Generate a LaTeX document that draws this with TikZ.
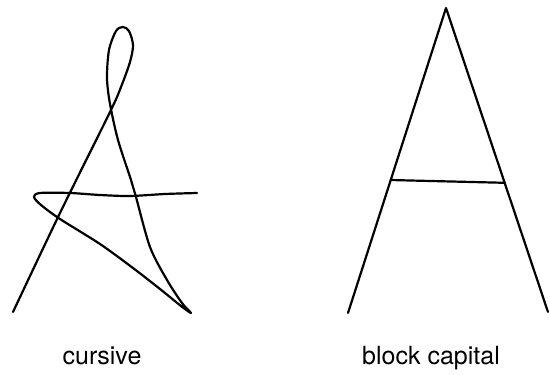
\documentclass[tikz,border=0pt]{standalone}
\usepackage{fontspec}
\setmainfont{TeX Gyre Heros}
\usepackage{tikz}
\usetikzlibrary{positioning, calc}

\begin{document}
\begin{tikzpicture}[x=1pt, y=-1pt,
    pen/.style={line width=2.2pt, line cap=round, line join=round},
    wordlabel/.style={anchor=base, inner sep=0pt, font=\fontsize{25}{30}\selectfont}
]
    \useasboundingbox (0,0) rectangle (550,375);

    % Cursive letter
    \draw[pen] plot[smooth, tension=0.5] coordinates {
        (13,312) (60,213) (110,112) (121,87) (130,62) (133,45) (129,31) (123,27)
        (116,31) (109,50) (107,78) (110,104) (118,140) (131,180) (136,197)
        (150,247) (167,280) (182,303) (191,313) (181,306) (160,289) (133,268)
        (100,244) (60,219) (41,205) (34,197) (40,193) (70,193)
        (100,195) (130,196) (165,194) (197,193)};

    % Block capital letter
    \coordinate (apex) at (446,8);
    \coordinate (leftfoot) at (348,313);
    \coordinate (rightfoot) at (548,312);
    \draw[pen] (leftfoot) -- (apex) -- (rightfoot);
    \draw[pen] ($(leftfoot)!0.436!(apex)$) coordinate (barleft)
        -- ($(rightfoot)!0.425!(apex)$) coordinate (barright);

    % Labels
    \node[wordlabel] (cursive) at (102,364) {cursive};
    \node[wordlabel] (block) at (431,364) {block capital};
\end{tikzpicture}
\end{document}
